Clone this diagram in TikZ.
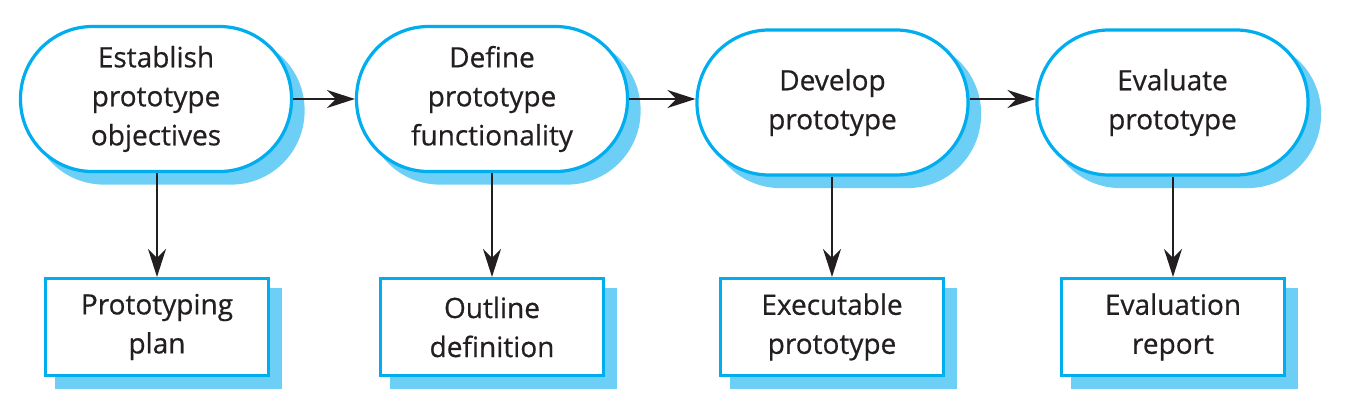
\documentclass[tikz,border=0pt]{standalone}
\usepackage{fontspec}
\setmainfont{Open Sans}[FakeBold=0.6]
\usetikzlibrary{shadows,arrows.meta}
\definecolor{bordercyan}{HTML}{00AEEF}
\definecolor{shadowblue}{HTML}{6DCFF6}
\definecolor{ink}{HTML}{231F20}
\begin{document}
\begin{tikzpicture}[x=1pt,y=-1pt,
  every node/.style={font=\fontsize{28}{39}\selectfont, text=ink, align=center},
  shade/.style={drop shadow={shadow xshift=11.5pt, shadow yshift=-11.5pt, fill=shadowblue, draw=shadowblue, line width=3.2pt, opacity=1}},
  stadium/.style={shade, draw=bordercyan, line width=3.2pt, fill=white, minimum width=271pt, minimum height=145pt, rounded corners=72pt, inner sep=0pt},
  outbox/.style={shade, draw=bordercyan, line width=3.2pt, fill=white, minimum width=223pt, minimum height=97pt, inner sep=0pt},
  arr/.style={draw=ink, line width=2pt, -{Stealth[length=28pt,width=18pt,inset=9pt]}}]
\useasboundingbox (0,0) rectangle (1345,404);

\node[stadium] (s1) at (156,99) {Establish\\prototype\\objectives};
\node[stadium] (s2) at (492,99) {Define\\prototype\\functionality};
\node[stadium] (s3) at (832.5,102.5) {Develop\\prototype};
\node[stadium] (s4) at (1172.5,102.5) {Evaluate\\prototype};

\node[outbox] (r1) at (157,327) {Prototyping\\plan};
\node[outbox] (r2) at (492,327) {Outline\\definition};
\node[outbox] (r3) at (832,327) {Executable\\prototype};
\node[outbox] (r4) at (1173,327) {Evaluation\\report};

\draw[arr] (s1.east) -- (s2.west);
\draw[arr] (s2.east) -- (s2.east -| s3.west);
\draw[arr] (s3.east |- s2.east) -- (s2.east -| s4.west);

\draw[arr] (r1.north |- s1.south) -- (r1.north);
\draw[arr] (r2.north |- s2.south) -- (r2.north);
\draw[arr] (r3.north |- s3.south) -- (r3.north);
\draw[arr] (r4.north |- s4.south) -- (r4.north);
\end{tikzpicture}
\end{document}
